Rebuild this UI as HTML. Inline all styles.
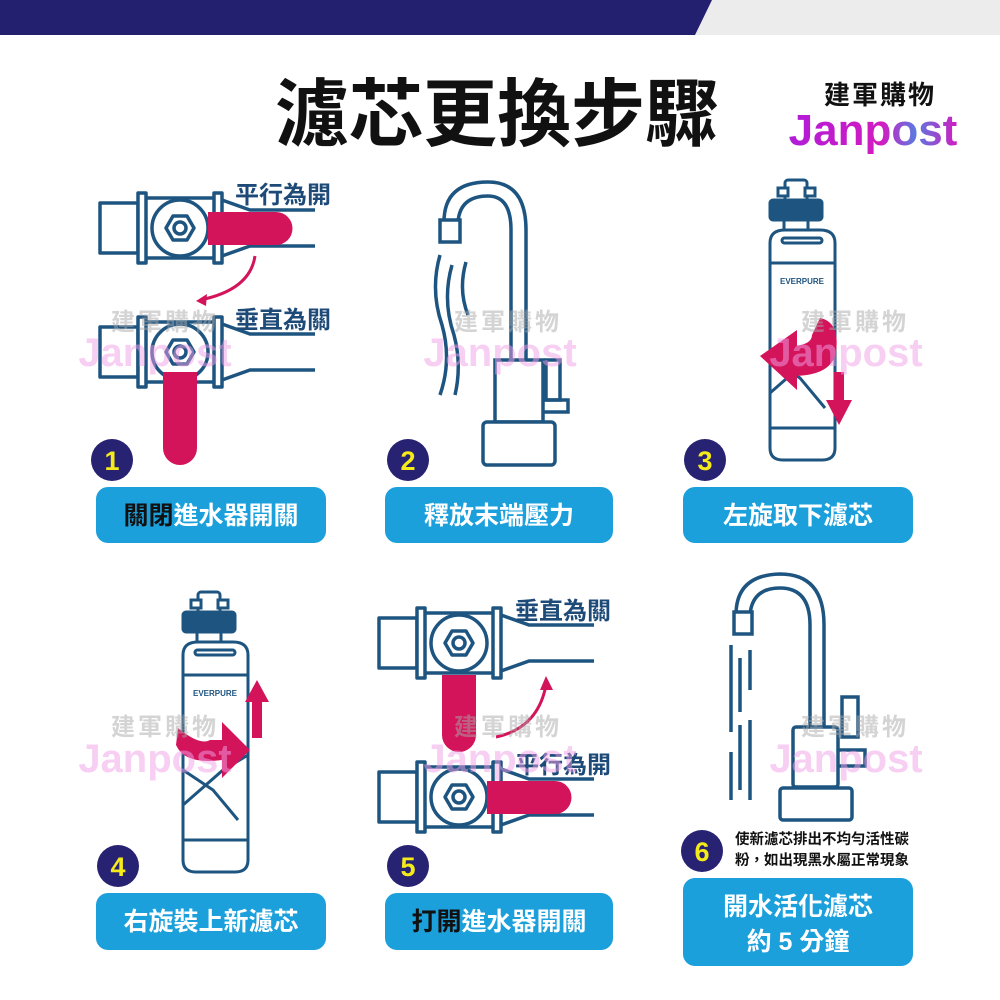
<!DOCTYPE html>
<html><head><meta charset="utf-8"><style>
html,body{margin:0;padding:0;background:#fff;}
svg{display:block}
text{font-family:"Liberation Sans","Noto Sans CJK TC",sans-serif;}
</style></head><body>
<svg width="1000" height="1000" viewBox="0 0 1000 1000" xmlns="http://www.w3.org/2000/svg">
<defs>
<linearGradient id="jg" x1="0" x2="1" y1="0" y2="0"><stop offset="0" stop-color="#b01cd8"/><stop offset="0.55" stop-color="#d21bc0"/><stop offset="0.75" stop-color="#5a7ae0"/><stop offset="1" stop-color="#d21bc0"/></linearGradient>
<g id="valve" fill="none" stroke="#1e5580" stroke-width="3.5" stroke-linejoin="round">
  <rect x="-80" y="-25" width="38" height="50" fill="#fff"/>
  <rect x="-42" y="-35" width="8" height="70" fill="#fff"/>
  <line x1="-34" y1="-30" x2="34" y2="-30"/><line x1="-34" y1="30" x2="34" y2="30"/>
  <circle cx="0" cy="0" r="28" fill="#fff"/>
  <rect x="34" y="-35" width="8" height="70" fill="#fff"/>
  <path d="M42,-28 L70,-18 L135,-18 M42,28 L70,18 L135,18"/>
  <polygon points="14,0 7,12 -7,12 -14,0 -7,-12 7,-12" fill="#fff"/>
  <circle cx="0" cy="0" r="6"/>
</g>
<g id="filter" fill="none" stroke="#1e5580" stroke-width="3">
  <rect x="15" y="-18" width="22" height="22" rx="3" fill="#fff"/>
  <rect x="8" y="-10" width="10" height="8" fill="#fff"/><rect x="35" y="-10" width="10" height="8" fill="#fff"/>
  <rect x="0" y="2" width="52" height="20" rx="3" fill="#1e5580"/>
  <rect x="14" y="22" width="24" height="10" fill="#fff"/>
  <path d="M0,45 Q0,32 15,32 L50,32 Q65,32 65,45 L65,250 Q65,262 52,262 L13,262 Q0,262 0,250 Z" fill="#fff"/>
  <rect x="12" y="40" width="40" height="5" rx="2.5"/>
  <line x1="0" y1="65" x2="65" y2="65"/>
  <path d="M0,195 L40,160 L65,145 M0,160 L30,180 L55,210 M0,230 L65,230"/>
  <text x="32" y="86" font-size="8" font-weight="bold" fill="#1e5580" stroke="none" text-anchor="middle">EVERPURE</text>
</g>
</defs>

<rect x="0" y="0" width="1000" height="35" fill="#ececec"/>
<polygon points="0,0 712,0 695,35 0,35" fill="#232070"/>

<text x="275" y="140" font-size="74" font-weight="bold" fill="#111">濾芯更換步驟</text>
<text x="880" y="104" font-size="26" font-weight="bold" fill="#111" text-anchor="middle" letter-spacing="2">建軍購物</text>
<text x="873" y="145" font-size="44" font-weight="bold" fill="url(#jg)" text-anchor="middle">Janpost</text>

<!-- Panel 1 -->
<use href="#valve" x="180" y="228"/>
<path d="M208,212 L276,212 A16.5,16.5 0 0 1 276,245 L208,245 Z" fill="#d4145a"/>
<text x="235" y="203" font-size="24" font-weight="bold" fill="#1e4a78">平行為開</text>
<path d="M255,256 Q250,290 200,300" fill="none" stroke="#d4145a" stroke-width="3"/>
<polygon points="196,301 207,294 206,306" fill="#d4145a"/>
<use href="#valve" x="180" y="352"/>
<path d="M163,372 L197,372 L197,448 A17,17 0 0 1 163,448 Z" fill="#d4145a"/>
<text x="235" y="328" font-size="24" font-weight="bold" fill="#1e4a78">垂直為關</text>

<!-- Panel 2 faucet -->
<g fill="none" stroke="#1e5580" stroke-width="3.5">
  <path d="M444,222 Q444,182 488,182 Q526,182 526,230 L526,360"/>
  <path d="M458,222 Q460,196 488,196 Q511,196 511,230 L511,360"/>
  <rect x="440" y="220" width="20" height="22" fill="#fff"/>
  <rect x="495" y="360" width="48" height="62" fill="#fff"/>
  <rect x="483" y="422" width="72" height="43" rx="4" fill="#fff"/>
  <rect x="546" y="360" width="14" height="40"/>
  <path d="M543,400 L568,400 L568,412 L543,412"/>
  <path d="M440,255 Q430,290 442,325 Q452,360 440,395 M452,265 Q442,300 454,335 Q462,365 455,395 M466,262 Q458,290 468,315"/>
</g>

<!-- Panel 3 filter -->
<use href="#filter" x="770" y="198"/>
<path d="M820,318 Q840,322 836,352 Q832,375 795,376 L795,346 Q812,344 812,335 Z" fill="#d4145a"/>
<polygon points="760,356 797,330 797,390" fill="#d4145a"/>
<rect x="834" y="372" width="10" height="30" fill="#d4145a"/>
<polygon points="826,400 852,400 839,425" fill="#d4145a"/>

<!-- Panel 4 filter -->
<use href="#filter" x="183" y="610"/>
<path d="M178,728 Q200,746 210,740 L222,740 L222,722 L250,750 L222,778 L222,760 Q185,765 176,745 Z" fill="#d4145a"/>
<rect x="252" y="700" width="10" height="38" fill="#d4145a"/>
<polygon points="245,702 269,702 257,680" fill="#d4145a"/>

<!-- Panel 5 -->
<use href="#valve" x="459" y="643"/>
<path d="M442,675 L476,675 L476,735 A17,17 0 0 1 442,735 Z" fill="#d4145a"/>
<text x="515" y="619" font-size="24" font-weight="bold" fill="#1e4a78">垂直為關</text>
<path d="M496,737 Q538,728 546,685" fill="none" stroke="#d4145a" stroke-width="3"/>
<polygon points="546,676 540,690 553,690" fill="#d4145a"/>
<use href="#valve" x="459" y="797"/>
<path d="M487,781 L555,781 A16.5,16.5 0 0 1 555,814 L487,814 Z" fill="#d4145a"/>
<text x="515" y="773" font-size="24" font-weight="bold" fill="#1e4a78">平行為開</text>

<!-- Panel 6 faucet -->
<g fill="none" stroke="#1e5580" stroke-width="3.5">
  <path d="M736,615 Q736,575 780,574 Q824,574 824,625 L824,727"/>
  <path d="M750,615 Q752,588 780,588 Q810,588 810,625 L810,727"/>
  <rect x="734" y="612" width="18" height="22" fill="#fff"/>
  <rect x="793" y="727" width="45" height="60" rx="3" fill="#fff"/>
  <rect x="780" y="788" width="72" height="32" rx="3" fill="#fff"/>
  <rect x="842" y="697" width="16" height="40"/>
  <path d="M838,750 L865,750 L865,766 L838,766"/>
  <path d="M731,645 L731,732 M731,752 L731,800 M740,658 L740,712 M740,725 L740,790 M750,650 L750,690 M750,720 L750,800"/>
</g>
<text x="735" y="844" font-size="14.5" font-weight="bold" fill="#111">使新濾芯排出不均勻活性碳</text>
<text x="735" y="865" font-size="14.5" font-weight="bold" fill="#111">粉，如出現黑水屬正常現象</text>

<g font-size="27" font-weight="bold" fill="#f5ea1a" text-anchor="middle">
<circle cx="112" cy="460" r="21" fill="#272271"/><text x="112" y="470">1</text>
<circle cx="408" cy="460" r="21" fill="#272271"/><text x="408" y="470">2</text>
<circle cx="705" cy="460" r="21" fill="#272271"/><text x="705" y="470">3</text>
<circle cx="118" cy="866" r="21" fill="#272271"/><text x="118" y="876">4</text>
<circle cx="408" cy="866" r="21" fill="#272271"/><text x="408" y="876">5</text>
<circle cx="702" cy="851" r="21" fill="#272271"/><text x="702" y="861">6</text>
</g>

<g fill="#1ba0dc">
<rect x="96" y="487" width="230" height="56" rx="12"/>
<rect x="385" y="487" width="228" height="56" rx="12"/>
<rect x="683" y="487" width="230" height="56" rx="12"/>
<rect x="96" y="893" width="230" height="57" rx="12"/>
<rect x="385" y="893" width="228" height="57" rx="12"/>
<rect x="683" y="878" width="230" height="88" rx="12"/>
</g>
<g font-size="25" font-weight="bold" fill="#fff" text-anchor="middle">
<text x="211" y="524"><tspan fill="#111">關閉</tspan>進水器開關</text>
<text x="499" y="524">釋放末端壓力</text>
<text x="798" y="524">左旋取下濾芯</text>
<text x="211" y="930">右旋裝上新濾芯</text>
<text x="499" y="930"><tspan fill="#111">打開</tspan>進水器開關</text>
<text x="798" y="915">開水活化濾芯</text>
<text x="798" y="950">約 5 分鐘</text>
</g>

<g font-weight="bold" text-anchor="middle" opacity="0.5">
<g font-size="24" fill="#aaa" letter-spacing="3">
<text x="165" y="330">建軍購物</text><text x="508" y="330">建軍購物</text><text x="855" y="330">建軍購物</text>
<text x="165" y="735">建軍購物</text><text x="508" y="735">建軍購物</text><text x="855" y="735">建軍購物</text>
</g>
<g font-size="40" fill="#f0a0e8">
<text x="155" y="366">Janpost</text><text x="500" y="366">Janpost</text><text x="846" y="366">Janpost</text>
<text x="155" y="772">Janpost</text><text x="500" y="772">Janpost</text><text x="846" y="772">Janpost</text>
</g>
</g>
</svg>
</body></html>
